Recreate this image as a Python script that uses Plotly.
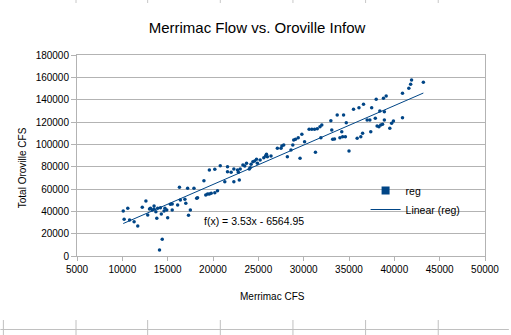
import plotly.graph_objects as go

# Merrimac daily flow (CFS) vs. total Oroville inflow (CFS)
merrimac_cfs = [
    10100, 10200, 10600, 10800, 11300, 11700, 12200, 12600, 12800, 13000,
    13100, 13300, 13500, 13500, 13700, 13800, 13900, 14200, 14300, 14600,
    14700, 14900, 15000, 15300, 15500, 15500, 14400, 14100, 16100, 16300,
    16400, 16900, 17000, 17200, 17300, 17500, 17900, 18200, 18300, 19000,
    19200, 19400, 19600, 19800, 20200, 20500, 19600, 20200, 20800, 21300,
    21600, 21600, 22000, 22300, 22300, 22700, 22800, 22900, 23000, 23300,
    23500, 23700, 24000, 24100, 24200, 24400, 24600, 24800, 24900, 25200,
    25600, 25800, 25900, 26000, 26400, 27100, 27500, 27600, 27800, 28200,
    28600, 28800, 28900, 29100, 29400, 29600, 29800, 30100, 30600, 30900,
    31200, 31300, 31500, 31800, 32000, 31900, 33000, 33100, 33200, 33400,
    33700, 34000, 34200, 34300, 34400, 34600, 34700, 35000, 35500, 35900,
    36100, 36300, 36500, 36600, 37000, 37300, 37400, 37500, 37900, 38000,
    38100, 38300, 38400, 38500, 38700, 38800, 38900, 38900, 39100, 39500,
    39700, 39900, 40900, 40900, 41600, 41800, 41900, 43200,
]
oroville_cfs = [
    40300, 32900, 42700, 32200, 30700, 26900, 43600, 49300, 36700, 42100,
    42700, 41200, 44800, 42000, 39700, 33800, 42700, 43300, 37600, 40300,
    42700, 41200, 34300, 46300, 41200, 46600, 15000, 5400, 45700, 61500,
    50100, 50800, 47200, 60600, 36400, 41200, 60600, 51700, 52200, 67400,
    54600, 55500, 55500, 56100, 56700, 58500, 77000, 77600, 80900, 66500,
    75500, 80000, 75000, 77900, 66500, 77000, 75000, 68100, 77900, 81500,
    80600, 83000, 77900, 79100, 82100, 84400, 85100, 86600, 83000, 86000,
    88000, 89600, 91100, 88900, 89600, 96400, 96400, 98500, 99400, 88900,
    94900, 99400, 103900, 104500, 105900, 87500, 109000, 102400, 113500, 113500,
    113500, 92900, 114000, 115800, 117300, 105900, 121200, 112800, 104500, 104800,
    126300, 105900, 111300, 106800, 126300, 106800, 119400, 94000, 131400, 105400,
    132800, 106800, 109900, 135800, 121800, 121800, 111300, 132800, 123300, 140300,
    116400, 115800, 129800, 117300, 117900, 141200, 129200, 121800, 143300, 114400,
    118800, 120900, 123800, 145700, 150200, 153800, 157600, 155500,
]

# Linear trend as reported by the fit label
slope = 3.53
intercept = -6564.95
trend_label = "f(x) = 3.53x - 6564.95"

x_ticks = list(range(5000, 50001, 5000))
y_ticks = list(range(0, 180001, 20000))

BLUE = "#004586"
GRID = "#b3b3b3"
FONT = "Liberation Sans, Arial, sans-serif"

W, H = 511, 335
ML, MR, MT, MB = 77, 24, 55, 79
PW, PH = W - ML - MR, H - MT - MB


def px_x(px):
    return (px - ML) / PW


def px_y(py):
    return (H - MB - py) / PH


x_lo, x_hi = min(merrimac_cfs), max(merrimac_cfs)
trend_x = [x_lo, x_hi]
trend_y = [slope * v + intercept for v in trend_x]

fig = go.Figure()
fig.add_trace(go.Scatter(
    x=merrimac_cfs, y=oroville_cfs, mode="markers",
    marker=dict(color=BLUE, size=3.5, symbol="circle"),
    showlegend=False, hoverinfo="x+y",
))
# legend key for the data series (square symbol)
fig.add_trace(go.Scatter(
    x=[None], y=[None], mode="markers", name="reg",
    marker=dict(color=BLUE, size=8, symbol="square"),
))
fig.add_trace(go.Scatter(
    x=trend_x, y=trend_y, mode="lines", name="Linear (reg)",
    line=dict(color=BLUE, width=1),
))

fig.add_annotation(
    x=px_x(203), y=px_y(221), xref="paper", yref="paper",
    text=trend_label, showarrow=False, xanchor="left", yanchor="middle",
    font=dict(family=FONT, size=10.5, color="#000000"),
)
# axis titles
fig.add_annotation(
    x=px_x(273), y=px_y(296), xref="paper", yref="paper",
    text="Merrimac CFS", showarrow=False, xanchor="center", yanchor="middle",
    font=dict(family=FONT, size=10, color="#000000"),
)
fig.add_annotation(
    x=px_x(22.5), y=px_y(167.5), xref="paper", yref="paper",
    text="Total Oroville CFS", showarrow=False, textangle=-90,
    xanchor="center", yanchor="middle",
    font=dict(family=FONT, size=10, color="#000000"),
)

# sheet cell borders around the chart object
cell_cols = [3, 76, 148, 221, 294, 367, 440]
shapes = []
for cx in cell_cols[1:]:
    shapes.append(dict(type="line", xref="paper", yref="paper",
                       x0=px_x(cx), x1=px_x(cx), y0=px_y(0), y1=px_y(3),
                       line=dict(color="#c8c8c8", width=1)))
for cx in cell_cols:
    shapes.append(dict(type="line", xref="paper", yref="paper",
                       x0=px_x(cx), x1=px_x(cx), y0=px_y(320), y1=px_y(335),
                       line=dict(color="#c0c0c0", width=1)))
shapes.append(dict(type="line", xref="paper", yref="paper",
                   x0=px_x(0), x1=px_x(W), y0=px_y(329.5), y1=px_y(329.5),
                   line=dict(color="#c0c0c0", width=1)))

fig.update_layout(
    width=W, height=H,
    margin=dict(l=ML, r=MR, t=MT, b=MB, pad=0),
    paper_bgcolor="white", plot_bgcolor="white",
    font=dict(family=FONT, size=10, color="#000000"),
    title=dict(text="Merrimac Flow vs. Oroville Infow", x=257 / W,
               xanchor="center", y=1 - 27.5 / H, yanchor="middle",
               font=dict(family=FONT, size=15, color="#000000")),
    showlegend=True,
    legend=dict(x=px_x(367), y=px_y(176), xanchor="left", yanchor="top",
                bgcolor="rgba(0,0,0,0)", font=dict(family=FONT, size=10.5),
                tracegroupgap=0, itemwidth=30),
    shapes=shapes,
    xaxis=dict(range=[5000, 50000], tickvals=x_ticks, tickformat="d",
               showgrid=False, showline=True, linecolor=GRID, linewidth=1,
               mirror=True, ticks="outside", ticklen=4, tickcolor=GRID,
               zeroline=False, tickfont=dict(size=10, color="#000000")),
    yaxis=dict(range=[0, 180000], tickvals=y_ticks, tickformat="d",
               showgrid=True, gridcolor=GRID, gridwidth=1, showline=True,
               linecolor=GRID, linewidth=1, mirror=True, ticks="outside",
               ticklen=5, tickcolor=GRID, zeroline=False,
               tickfont=dict(size=10, color="#000000")),
)

fig.write_html("out.html")
